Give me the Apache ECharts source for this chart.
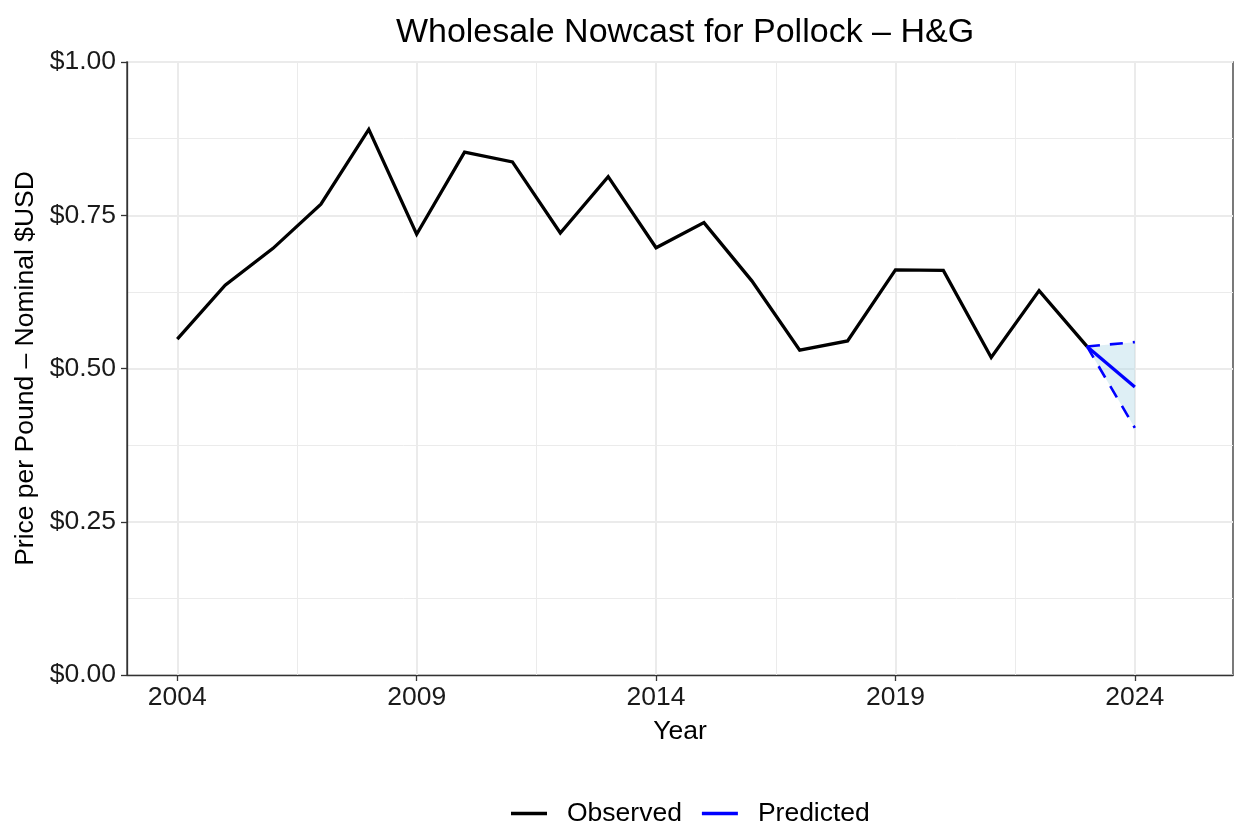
<!DOCTYPE html>
<html>
<head>
<meta charset="utf-8">
<script src="https://cdn.jsdelivr.net/npm/echarts@6/dist/echarts.min.js"></script>
<style>
  html, body { margin: 0; padding: 0; background: #fff; }
  #chart { width: 1238px; height: 828px; }
</style>
</head>
<body>
<div id="chart"></div>
<script>
// Observed wholesale price (USD per lb), 2004-2023
const years = [2004, 2005, 2006, 2007, 2008, 2009, 2010, 2011, 2012, 2013,
               2014, 2015, 2016, 2017, 2018, 2019, 2020, 2021, 2022, 2023];
const observed = [0.548, 0.636, 0.696, 0.768, 0.890, 0.719, 0.853, 0.837, 0.721, 0.813,
                  0.697, 0.738, 0.643, 0.530, 0.545, 0.661, 0.660, 0.518, 0.627, 0.536];

// Nowcast: point estimate with lower / upper bounds
const predYears = [2023, 2024];
const predicted = [0.536, 0.470];
const predLower = [0.536, 0.403];
const predUpper = [0.536, 0.543];

// Axis breaks
const xMajorBreaks = [2004, 2009, 2014, 2019, 2024];
const xMinorBreaks = [2006.5, 2011.5, 2016.5, 2021.5];

const FONT = '"Liberation Sans", Arial, Helvetica, sans-serif';
const GRID_COLOR = '#EBEBEB';
const BLUE = '#0000FF';
const TXT = 26.5;

const pairs = (xs, ys) => xs.map((x, i) => [x, ys[i]]);

// Ribbon rows: [year, lower, upper]
const ribbonData = predYears.map((y, i) => [y, predLower[i], predUpper[i]]);

const chart = echarts.init(document.getElementById('chart'), null, { renderer: 'canvas' });

chart.setOption({
  animation: false,
  backgroundColor: '#fff',
  title: {
    text: 'Wholesale Nowcast for Pollock \u2013 H&G',
    left: 680,
    textAlign: 'center',
    top: 11,
    textStyle: { fontFamily: FONT, fontSize: 34, fontWeight: 'normal', color: '#000' }
  },
  legend: {
    top: 795,
    left: 506,
    data: [
      { name: 'Observed', itemStyle: { color: '#000' } },
      { name: 'Predicted', itemStyle: { color: BLUE } }
    ],
    icon: 'rect',
    itemWidth: 36,
    itemHeight: 3.5,
    itemGap: 20,
    textStyle: { fontFamily: FONT, fontSize: TXT, color: '#000', padding: [0, 0, 0, 15] },
    selectedMode: false
  },
  grid: {
    left: 127, right: 5, top: 62, bottom: 153,
    show: true, borderColor: '#333', borderWidth: 1.3, backgroundColor: 'transparent'
  },
  xAxis: {
    type: 'value',
    min: 2002.95,
    max: 2026.05,
    name: 'Year',
    nameLocation: 'middle',
    nameGap: 43,
    nameTextStyle: { fontFamily: FONT, fontSize: TXT, color: '#000' },
    axisLine: { show: true, onZero: false, lineStyle: { color: '#333', width: 1.3 } },
    axisTick: { show: true, customValues: xMajorBreaks, length: 6, lineStyle: { color: '#333', width: 1.3 } },
    axisLabel: {
      customValues: xMajorBreaks, margin: 9,
      fontFamily: FONT, fontSize: TXT, color: '#1a1a1a',
      formatter: v => String(v)
    },
    splitLine: { show: false }
  },
  yAxis: {
    type: 'value',
    min: 0,
    max: 1,
    interval: 0.25,
    name: 'Price per Pound \u2013 Nominal $USD',
    nameLocation: 'middle',
    nameGap: 87,
    nameTextStyle: { fontFamily: FONT, fontSize: TXT, color: '#000' },
    axisLine: { show: true, lineStyle: { color: '#333', width: 1.3 } },
    axisTick: { show: true, length: 6, lineStyle: { color: '#333', width: 1.3 } },
    axisLabel: {
      margin: 11, fontFamily: FONT, fontSize: TXT, color: '#1a1a1a',
      formatter: v => '$' + v.toFixed(2)
    },
    splitLine: { show: true, lineStyle: { color: GRID_COLOR, width: 2 } },
    minorTick: { show: false, splitNumber: 2 },
    minorSplitLine: { show: true, lineStyle: { color: GRID_COLOR, width: 1 } }
  },
  series: [
    {
      // vertical grid lines at the year breaks
      name: 'xgrid',
      type: 'line',
      data: [],
      z: 1,
      silent: true,
      markLine: {
        silent: true,
        symbol: 'none',
        label: { show: false },
        z: 1,
        data: [
          ...xMajorBreaks.map(v => ({ xAxis: v, lineStyle: { color: GRID_COLOR, width: 2, type: 'solid' } })),
          ...xMinorBreaks.map(v => ({ xAxis: v, lineStyle: { color: GRID_COLOR, width: 1, type: 'solid' } }))
        ]
      }
    },
    {
      // prediction interval band
      name: 'band',
      type: 'custom',
      z: 2,
      silent: true,
      data: ribbonData,
      encode: { x: 0, y: [1, 2] },
      renderItem: (params, api) => {
        if (params.dataIndex !== 0) return null;
        const upper = ribbonData.map(d => api.coord([d[0], d[2]]));
        const lower = ribbonData.map(d => api.coord([d[0], d[1]])).reverse();
        return {
          type: 'polygon',
          shape: { points: upper.concat(lower) },
          style: { fill: 'rgba(173,216,230,0.4)', stroke: null }
        };
      }
    },
    {
      name: 'Observed',
      type: 'line',
      z: 3,
      data: pairs(years, observed),
      showSymbol: false,
      lineStyle: { color: '#000', width: 3.3, join: 'miter' },
      itemStyle: { color: '#000' }
    },
    {
      name: 'Lower',
      type: 'line',
      z: 4,
      data: pairs(predYears, predLower),
      showSymbol: false,
      lineStyle: { color: BLUE, width: 2.6, type: [13, 10] }
    },
    {
      name: 'Upper',
      type: 'line',
      z: 4,
      data: pairs(predYears, predUpper),
      showSymbol: false,
      lineStyle: { color: BLUE, width: 2.6, type: [13, 10] }
    },
    {
      name: 'Predicted',
      type: 'line',
      z: 5,
      data: pairs(predYears, predicted),
      showSymbol: false,
      lineStyle: { color: BLUE, width: 3.3 },
      itemStyle: { color: BLUE }
    }
  ]
});
</script>
</body>
</html>
